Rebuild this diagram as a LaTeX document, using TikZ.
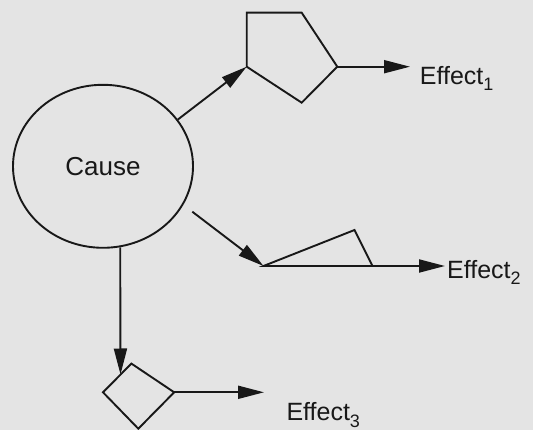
\documentclass[tikz,border=0pt]{standalone}
\usepackage{fontspec}
\setmainfont{Liberation Sans}
\usetikzlibrary{shapes.geometric,arrows.meta}
\definecolor{bg}{RGB}{228,228,228}
\definecolor{ink}{RGB}{24,24,24}
\newcommand\effsub[1]{Effect\raisebox{-6.5pt}{\fontsize{18}{18}\selectfont #1}}
\begin{document}
\begin{tikzpicture}[x=1pt,y=-1pt,color=ink,
  conn/.style={line width=1.9pt,-{Triangle[length=26pt,width=13pt]}},
  outline/.style={line width=1.9pt,line join=miter},
  lbl/.style={anchor=base west,inner sep=0pt,font=\fontsize{25}{25}\selectfont},
  causenode/.style={ellipse,draw,line width=1.9pt,minimum width=180pt,minimum height=163pt,inner sep=0pt,font=\fontsize{26}{26}\selectfont}]
\fill[bg] (0,0) rectangle (533,430);
\useasboundingbox (0,0) rectangle (533,430);

% cause
\node[causenode] (cause) at (103,166.3) {Cause};

% pentagon (top)
\coordinate (p1) at (246.7,12.7);
\coordinate (p2) at (301.7,12.7);
\coordinate (p3) at (337.3,66.7);
\coordinate (p4) at (301.7,102.7);
\coordinate (p5) at (246.7,66.7);
\draw[outline] (p1) -- (p2) -- (p3) -- (p4) -- (p5) -- cycle;

% triangle (middle)
\coordinate (t1) at (263.5,266);
\coordinate (t2) at (354.5,230);
\coordinate (t3) at (372.5,266);
\draw[outline] (t1) -- (t2) -- (t3) -- cycle;

% diamond (bottom)
\coordinate (dl) at (103,392.3);
\coordinate (dt) at (131.4,363.6);
\coordinate (dr) at (174.2,392.3);
\coordinate (db) at (138.3,428.7);
\draw[outline] (dl) -- (dt) -- (dr) -- (db) -- cycle;
\coordinate (dtip) at (120.5,374.5);

% labels
\node[lbl] (e1) at (419.7,84.3) {\effsub{1}};
\node[lbl] (e2) at (447,278.3) {\effsub{2}};
\node[lbl] (e3) at (286.3,420.5) {\effsub{3}};

% arrow end points
\coordinate (a1) at (410,66.7);
\coordinate (a2) at (445,266);
\coordinate (a3) at (264,392.3);
\coordinate (m0) at (192.3,211.7);

% connectors
\draw[conn] (cause.32) -- (p5);
\draw[conn] (p3) -- (a1);
\draw[conn] (m0) -- (t1);
\draw[conn] (t3) -- (a2);
\draw[conn] (cause.-78) -- (dtip);
\draw[conn] (dr) -- (a3);
\end{tikzpicture}
\end{document}
